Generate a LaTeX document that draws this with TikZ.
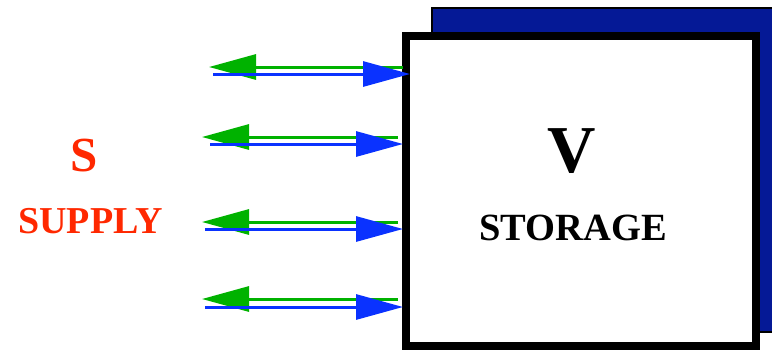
\documentclass[tikz,border=0pt]{standalone}
\usepackage{fontspec}
\setmainfont{Liberation Serif}
\usetikzlibrary{arrows.meta}
\definecolor{shadowblue}{RGB}{5,25,150}
\definecolor{arrowblue}{RGB}{10,50,255}
\definecolor{arrowgreen}{RGB}{0,178,0}
\definecolor{supplyred}{RGB}{255,40,0}
\tikzset{
  flowline/.style={line width=3pt},
  inflow/.style={flowline, arrowgreen, -{Triangle[length=47pt,width=25pt]}},
  outflow/.style={flowline, arrowblue, -{Triangle[length=47pt,width=25pt]}},
  bigtext/.style={font=\bfseries\fontsize{67}{80}\selectfont, anchor=base, inner sep=0pt},
  labeltext/.style={font=\bfseries\fontsize{38.5}{46}\selectfont, anchor=base, inner sep=0pt},
  redtext/.style={text=supplyred}
}
\begin{document}
\begin{tikzpicture}[x=1pt,y=-1pt]
\useasboundingbox (0,0) rectangle (772,349);
\clip (0,0) rectangle (772,349);
% shadow box
\node[draw=black, line width=1.5pt, fill=shadowblue, minimum width=360pt, minimum height=324pt, inner sep=0pt] (shadow) at (612,170) {};
% storage box
\node[draw=black, line width=8pt, fill=white, minimum width=350pt, minimum height=310pt, inner sep=0pt] (storage) at (581,191) {};
\node[bigtext] (V) at (572,172) {V};
\node[labeltext] (storagelabel) at (573,240) {STORAGE};
% supply labels
\node[bigtext, redtext, font=\bfseries\fontsize{49}{58}\selectfont] (S) at (84,171) {S};
\node[labeltext, redtext, font=\bfseries\fontsize{38}{46}\selectfont] (supply) at (90.5,233) {SUPPLY};
% arrow end coordinates
\coordinate (g1r) at (403,67);  \coordinate (g1l) at (209,67);
\coordinate (b1l) at (213,74);  \coordinate (b1r) at (410,74);
\coordinate (g2r) at (398,137); \coordinate (g2l) at (202,137);
\coordinate (b2l) at (210,144); \coordinate (b2r) at (403,144);
\coordinate (g3r) at (398,222); \coordinate (g3l) at (202,222);
\coordinate (b3l) at (205,229); \coordinate (b3r) at (403,229);
\coordinate (g4r) at (398,299); \coordinate (g4l) at (202,299);
\coordinate (b4l) at (205,307); \coordinate (b4r) at (403,307);
\foreach \i in {1,2,3,4}{
  \draw[inflow] (g\i r) -- (g\i l);
  \draw[outflow] (b\i l) -- (b\i r);
}
\end{tikzpicture}
\end{document}
